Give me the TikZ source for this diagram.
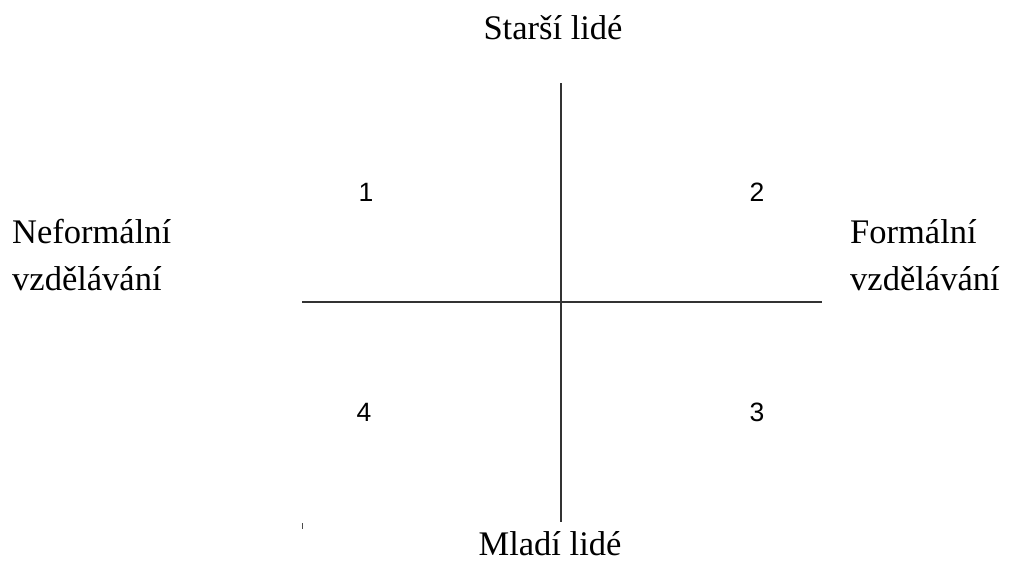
\documentclass[tikz,border=0pt]{standalone}
\usepackage{fontspec}
\setmainfont{Liberation Serif}
\newfontfamily\numfont{Liberation Sans}
\usetikzlibrary{positioning}
\tikzset{
  axislabel/.style={font=\fontsize{34.5}{40}\selectfont, inner sep=0pt},
  quadnum/.style={font=\numfont\fontsize{26.5}{30}\selectfont, inner sep=0pt},
  axisline/.style={draw=black!80, line width=1.1pt}
}
\begin{document}
\begin{tikzpicture}[x=1pt, y=-1pt]
  \useasboundingbox (0,0) rectangle (1009,562);
  % Axes
  \coordinate (vtop) at (561,83);
  \coordinate (vbot) at (561,522);
  \coordinate (hleft) at (302,302);
  \coordinate (hright) at (822,302);
  \draw[axisline] (vtop) -- (vbot);
  \draw[axisline] (hleft) -- (hright);
  % Small tick
  \coordinate (ticktop) at (302,523);
  \coordinate (tickbot) at (302,529);
  \draw[black!70, line width=1pt] (ticktop) -- (tickbot);
  % Axis labels
  \node[axislabel, anchor=base] (older) at (553,39) {Starší lidé};
  \node[axislabel, anchor=base] (younger) at (550,555) {Mladí lidé};
  \node[axislabel, anchor=base west] (informal) at (12,243) {Neformální};
  \node[axislabel, anchor=base west] (informaledu) at (12,290) {vzdělávání};
  \node[axislabel, anchor=base west] (formal) at (850,243) {Formální};
  \node[axislabel, anchor=base west] (formaledu) at (850,290) {vzdělávání};
  % Quadrant numbers
  \node[quadnum] (q1) at (366,192) {1};
  \node[quadnum] (q2) at (757,192) {2};
  \node[quadnum] (q3) at (757,412) {3};
  \node[quadnum] (q4) at (364,412) {4};
\end{tikzpicture}
\end{document}
